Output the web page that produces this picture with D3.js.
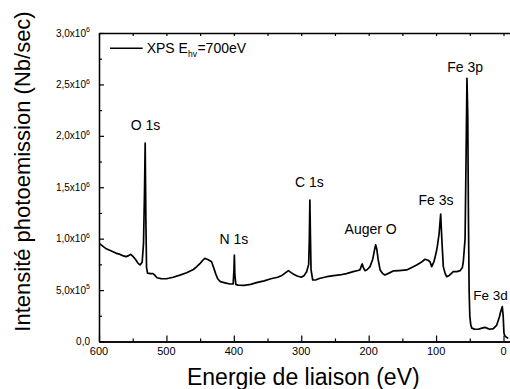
<!DOCTYPE html>
<html><head><meta charset="utf-8">
<script src="https://cdn.jsdelivr.net/npm/d3@7"></script>
<style>
html,body{margin:0;padding:0;background:#fff;}
svg{display:block;}
text{font-family:"Liberation Sans",Arial,Helvetica,sans-serif;fill:#000;}
</style></head>
<body>
<svg id="chart" width="510" height="389"></svg>
<script>
// Binding energy (eV) and intensity (counts/sec)
const energy = [600,595,590,585,580,575,570,565,560,556,553,550,546,542,539,536,534,532.5,531.5,530.5,529.5,528,524,520,518,514,508,500,490,480,470,460,455,450,446,443,438,433,430,427,424,420,413,406,401,399.8,399.2,398.5,397,394,385,375,365,355,345,335,328,323,319,315,310,306,300,296,292,289,288,287.2,286.3,285.5,283,278,272,262,252,243,233,223,216,213,210.5,209.5,208,205.5,202,198,194,191,189.6,188,186,183,179,176,170,163.5,155,143.6,136,128.8,122,116.5,112,109,106.5,103,100,98.2,95.5,93.2,91.5,89.3,86.5,84.3,80,74.5,69,64.5,61,59.6,57,55.5,54.2,53,52,51,50,48.5,47,43,37.4,32,27.4,23,20,15,10,6,4.2,1.8,0.5,-0.7,-2,-4.7,-7];
const intensity = [0.955,0.93,0.905,0.89,0.875,0.86,0.85,0.835,0.825,0.835,0.848,0.83,0.80,0.76,0.745,0.77,0.95,1.45,1.93,1.2,0.72,0.665,0.66,0.66,0.65,0.62,0.612,0.61,0.625,0.645,0.669,0.70,0.728,0.76,0.79,0.809,0.795,0.776,0.72,0.66,0.61,0.582,0.57,0.559,0.56,0.70,0.84,0.65,0.555,0.548,0.545,0.555,0.575,0.59,0.61,0.625,0.645,0.67,0.689,0.67,0.65,0.637,0.625,0.64,0.679,0.75,1.0,1.376,1.0,0.70,0.598,0.60,0.615,0.63,0.64,0.647,0.66,0.679,0.69,0.696,0.74,0.754,0.72,0.689,0.70,0.728,0.80,0.90,0.939,0.90,0.80,0.696,0.66,0.647,0.665,0.686,0.69,0.696,0.72,0.744,0.77,0.80,0.79,0.776,0.728,0.78,0.86,0.922,1.05,1.24,1.0,0.728,0.66,0.63,0.645,0.679,0.68,0.689,0.72,0.776,1.0,1.8,2.56,2.2,1.2,0.5,0.25,0.16,0.13,0.12,0.119,0.13,0.138,0.125,0.119,0.125,0.16,0.24,0.29,0.339,0.25,0.08,0.055,0.04,0.03].map(v => v * 1e6);

const xMajorTicks = [600,500,400,300,200,100,0];
const xMinorTicks = [550,450,350,250,150,50];
const yMajorTicks = [0,5e5,1e6,1.5e6,2e6,2.5e6,3e6];
const yMinorTicks = [2.5e5,7.5e5,1.25e6,1.75e6,2.25e6,2.75e6];
const yTickMantissa = ["0,0","5,0x10","1,0x10","1,5x10","2,0x10","2,5x10","3,0x10"];
const yTickExponent = ["","5","6","6","6","6","6"];

const peakLabels = ["O 1s","N 1s","C 1s","Auger O","Fe 3s","Fe 3p","Fe 3d"];
const peakLabelX = [531,400,288,197,100,57,45];
const peakLabelY = [2.06e6,0.95e6,1.5e6,1.05e6,1.33e6,2.62e6,0.4e6];
const peakAnchor = ["middle","middle","middle","middle","middle","middle","start"];

const xTitle = "Energie de liaison (eV)";
const yTitle = "Intensité photoemission (Nb/sec)";

const svg = d3.select("#chart");
const L = 99, B = 341.5, T = 33;
const x = d3.scaleLinear().domain([600, -10]).range([L, L + 610 * (404.5/600)]);
const y = d3.scaleLinear().domain([0, 3e6]).range([B, T]);
const R = x(-10);

svg.append("clipPath").attr("id","clip").append("rect")
  .attr("x", L).attr("y", T).attr("width", R - L).attr("height", B - T);

// Build a D3 axis, then flatten its marks into plain top-level lines
function parseTranslate(s){
  const m = /translate\(\s*([-\d.e]+)[ ,]+([-\d.e]+)\s*\)/.exec(s || "");
  return m ? [+m[1], +m[2]] : [0, 0];
}
function drawAxis(axis, tx, ty){
  const g = svg.append("g").attr("transform",`translate(${tx},${ty})`).call(axis);
  const d = g.select(".domain").attr("d") || "";
  const mH = /^M([-\d.e]+),([-\d.e]+)H([-\d.e]+)$/.exec(d);
  const mV = /^M([-\d.e]+),([-\d.e]+)V([-\d.e]+)$/.exec(d);
  const segs = [];
  if (mH) segs.push([+mH[1], +mH[2], +mH[3], +mH[2], 1.3]);
  if (mV) segs.push([+mV[1], +mV[2], +mV[1], +mV[3], 1.3]);
  g.selectAll(".tick").each(function(){
    const [px, py] = parseTranslate(this.getAttribute("transform"));
    d3.select(this).selectAll("line").each(function(){
      const x2 = +(this.getAttribute("x2") || 0), y2 = +(this.getAttribute("y2") || 0);
      segs.push([px, py, px + x2, py + y2, 1.2]);
    });
  });
  g.remove();
  segs.forEach(s => svg.append("line")
    .attr("x1", s[0] + tx).attr("y1", s[1] + ty).attr("x2", s[2] + tx).attr("y2", s[3] + ty)
    .attr("stroke", "#000").attr("stroke-width", s[4]));
}
drawAxis(d3.axisBottom(x).tickValues(xMajorTicks).tickSize(-6).tickSizeOuter(0), 0, B);
drawAxis(d3.axisBottom(x).tickValues(xMinorTicks).tickSize(-3).tickSizeOuter(0), 0, B);
drawAxis(d3.axisTop(x).tickValues(xMajorTicks.concat(xMinorTicks)).tickSize(-3).tickSizeOuter(0), 0, T);
drawAxis(d3.axisLeft(y).tickValues(yMajorTicks).tickSize(-5).tickSizeOuter(0), L, 0);
drawAxis(d3.axisLeft(y).tickValues(yMinorTicks).tickSize(-3).tickSizeOuter(0), L, 0);

// spectrum
const pts = energy.map((e,i)=>[e,intensity[i]]);
svg.append("path").datum(pts).attr("clip-path","url(#clip)")
  .attr("fill","none").attr("stroke","#000").attr("stroke-width",1.7).attr("stroke-linejoin","round")
  .attr("d", d3.line().x(d=>x(d[0])).y(d=>y(d[1])));

// x tick labels
xMajorTicks.forEach(v => {
  svg.append("text").attr("x",x(v)).attr("y",355)
    .attr("text-anchor","middle").attr("font-size",11).text(v);
});
// y tick labels (mantissa + superscript exponent)
yMajorTicks.forEach((v,i) => {
  const hasExp = yTickExponent[i] !== "";
  if (hasExp) svg.append("text").attr("x",90).attr("y",y(v)-0.6)
    .attr("text-anchor","end").attr("font-size",7).text(yTickExponent[i]);
  svg.append("text").attr("x", hasExp ? 86 : 90).attr("y",y(v)+3.5)
    .attr("text-anchor","end").attr("font-size",10).text(yTickMantissa[i]);
});

// peak labels
peakLabels.forEach((s,i) => {
  svg.append("text").attr("x",x(peakLabelX[i])).attr("y",y(peakLabelY[i]))
    .attr("text-anchor",peakAnchor[i]).attr("font-size", i === 6 ? 13.5 : 14).text(s);
});

// legend
svg.append("line").attr("x1",110).attr("x2",142.7).attr("y1",48.3).attr("y2",48.3)
  .attr("stroke","#000").attr("stroke-width",1.6);
const l1 = svg.append("text").attr("x",146.7).attr("y",53.3).attr("font-size",14).text("XPS E");
const w1 = l1.node().getComputedTextLength();
const l2 = svg.append("text").attr("x",146.7 + w1).attr("y",56.5).attr("font-size",8.5).text("hv");
const w2 = l2.node().getComputedTextLength();
svg.append("text").attr("x",146.7 + w1 + w2 + 0.5).attr("y",53.3).attr("font-size",14).text("=700eV");

// axis titles
svg.append("text").attr("x",303.3).attr("y",385)
  .attr("text-anchor","middle").attr("font-size",23).text(xTitle);
svg.append("text").attr("transform","translate(30,171.5) rotate(-90)")
  .attr("text-anchor","middle").attr("font-size",22).text(yTitle);
</script>
</body></html>
